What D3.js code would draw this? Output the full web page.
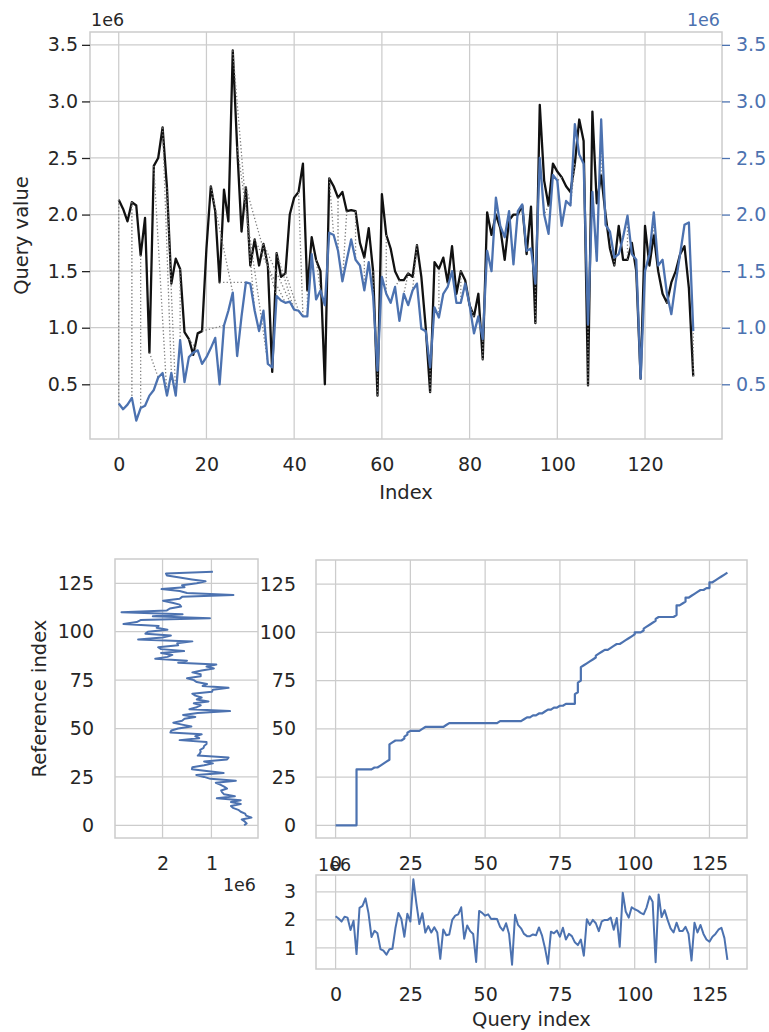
<!DOCTYPE html>
<html><head><meta charset="utf-8">
<script src="https://cdn.jsdelivr.net/npm/d3@7"></script>
<style>
body{margin:0;background:#fff}
svg{display:block}
text{font-family:"DejaVu Sans",sans-serif;fill:#262626}
</style>
</head><body>
<svg id="c" width="769" height="1032"></svg>
<script>
// values in units of 1e6
const queryValues = [2.13,2.05,1.94,2.11,2.08,1.64,1.97,0.78,2.43,2.5,
2.77,2.24,1.39,1.61,1.52,0.96,0.9,0.76,0.95,0.97,
1.7,2.25,2.03,1.4,2.22,1.94,3.45,2.6,1.85,2.24,
1.55,1.78,1.55,1.74,1.55,0.61,1.66,1.45,1.48,2.0,
2.15,2.2,2.45,1.33,1.8,1.6,1.5,0.5,2.32,2.25,
2.15,2.2,2.03,2.04,2.03,1.75,1.62,1.88,1.5,0.4,
2.18,1.82,1.7,1.5,1.42,1.42,1.48,1.45,1.73,1.45,
1.0,0.43,1.58,1.52,1.62,1.4,1.72,1.3,1.5,1.42,
1.2,1.1,1.3,0.72,2.02,1.82,2.0,1.88,1.6,1.95,
2.0,2.0,2.08,1.65,2.07,1.04,2.97,2.3,2.08,2.45,
2.38,2.33,2.25,2.2,2.45,2.84,2.65,0.49,2.91,2.1,
2.35,2.0,1.7,1.55,1.9,1.6,1.6,1.75,1.5,0.55,
1.9,1.55,1.82,1.5,1.3,1.22,1.4,1.5,1.65,1.72,
1.35,0.57];

const referenceValues = [0.33,0.28,0.32,0.38,0.18,0.29,0.31,0.4,0.45,0.56,
0.6,0.4,0.6,0.4,0.89,0.52,0.74,0.78,0.8,0.68,
0.74,0.82,0.91,0.5,1.02,1.15,1.31,0.75,1.1,1.4,
1.39,1.15,0.97,1.15,0.68,0.65,1.28,1.24,1.22,1.23,
1.16,1.15,1.1,1.1,1.65,1.25,1.33,1.2,1.84,1.82,
1.68,1.41,1.6,1.78,1.6,1.55,1.33,1.58,1.28,0.62,
1.45,1.3,1.22,1.36,1.06,1.3,1.2,1.33,1.39,0.99,
0.97,0.65,1.18,1.09,1.3,1.36,1.5,1.22,1.22,1.39,
1.2,0.95,1.1,0.9,1.68,1.5,2.15,1.9,1.8,2.03,
1.56,2.03,2.09,1.68,1.7,1.39,2.5,2.0,1.83,2.35,
2.3,1.9,2.12,2.08,2.8,2.53,2.45,1.03,2.2,1.59,
2.84,1.91,1.85,1.62,1.65,1.8,1.99,1.65,1.6,0.55,
1.5,1.65,2.02,1.55,1.6,1.3,1.12,1.4,1.65,1.91,
1.93,0.97];

// warping path shown in the path panel: [query index, reference index]
const warpPath = [[0,0],[1,0],[2,0],[3,0],[4,0],[5,0],[6,0],[7,0],
[7,1],[7,2],[7,3],[7,4],[7,5],[7,6],[7,7],[7,8],[7,9],[7,10],[7,11],[7,12],[7,13],[7,14],[7,15],[7,16],[7,17],[7,18],[7,19],[7,20],[7,21],[7,22],[7,23],[7,24],[7,25],[7,26],[7,27],[7,28],[7,29],
[8,29],[9,29],[10,29],[11,29],[12,29],[13,30],[14,30],[15,31],[16,32],[17,33],[18,34],
[18,35],[18,36],[18,37],[18,38],[18,39],[18,40],[18,41],[18,42],
[19,43],[20,44],[21,44],[22,44],[23,45],[23,46],[24,47],[24,48],[25,49],[26,49],[27,49],[28,49],[29,50],[30,51],
[31,51],[32,51],[33,51],[34,51],[35,51],[36,51],[37,52],[38,53],
[39,53],[40,53],[41,53],[42,53],[43,53],[44,53],[45,53],[46,53],[47,53],[48,53],[49,53],[50,53],[51,53],[52,53],[53,53],[54,53],
[55,54],[56,54],[57,54],[58,54],[59,54],[60,54],[61,54],[62,54],
[63,55],[64,56],[65,56],[66,57],[67,57],[68,58],[69,58],[70,59],[71,60],[72,60],[73,61],[74,61],[75,62],[76,62],[77,63],[78,63],[79,63],[80,63],
[80,64],[80,65],[80,66],[80,67],[80,68],
[81,69],[81,70],[81,71],[81,72],[81,73],[81,74],
[82,75],[82,76],[82,77],[82,78],[82,79],[82,80],[82,81],[82,82],
[83,83],[84,84],[85,85],[86,86],[87,87],[87,88],[88,89],[89,90],[90,91],[91,91],[92,92],[93,93],[94,94],[95,94],[96,95],[97,96],[98,97],[99,98],[100,99],[100,100],[101,100],[102,100],[103,101],[103,102],[104,103],[105,104],[106,105],[107,106],[107,107],[108,108],[109,108],[110,108],[111,108],[112,108],[113,108],
[114,109],[114,110],[114,111],[114,112],[114,113],[114,114],[115,114],[116,115],[117,116],[117,117],[117,118],[118,118],[119,119],[120,120],[121,121],[122,122],[123,122],[124,123],[125,123],[125,124],[125,125],[125,126],[126,126],[127,127],[128,128],[129,129],[130,130],[131,131]];

// dotted match lines drawn in the top plot: [query index, reference index]
const matchPairs = [[0,0],[3,3],[5,5],[7,9],[8,11],[10,12],[11,13],[14,14],[16,18],[19,24],
[21,26],[23,29],[26,31],[27,34],[29,36],[31,38],[33,39],[36,40],[38,41],[41,42],
[43,43],[45,46],[48,49],[50,50],[52,51],[54,54],[56,56],[58,58],[59,59],[61,61],
[64,63],[66,65],[68,67],[71,71],[73,73],[75,75],[78,78],[81,80],[83,83],[86,86],
[89,89],[92,92],[95,95],[98,97],[101,100],[104,103],[107,107],[110,110],[113,113],[116,116],
[119,119],[122,122],[125,125],[128,128],[131,131]];

const topXTicks = [0,20,40,60,80,100,120];
const topYTicks = [0.5,1.0,1.5,2.0,2.5,3.0,3.5];
const refValueTicks = [2,1];
const indexTicks = [0,25,50,75,100,125];
const queryValueTicks = [1,2,3];

const BLUE = "#4c72b0", GRID = "#cccccc", TXT = "#262626";
const TICKFS = "19px", LABFS = "19.5px", OFFS = "17.5px";
const svg = d3.select("#c");

function pad(ext){ const m = (ext[1]-ext[0])*0.05; return [ext[0]-m, ext[1]+m]; }
const idxDom = pad([0, referenceValues.length-1]);

function grid(g, xs, ys, box, xt, yt){
  g.selectAll(null).data(xt).join("line")
    .attr("x1", d=>xs(d)).attr("x2", d=>xs(d)).attr("y1", box.t).attr("y2", box.b)
    .attr("stroke", GRID).attr("stroke-width", 1.25);
  g.selectAll(null).data(yt).join("line")
    .attr("y1", d=>ys(d)).attr("y2", d=>ys(d)).attr("x1", box.l).attr("x2", box.r)
    .attr("stroke", GRID).attr("stroke-width", 1.25);
}
function frame(g, box){
  g.append("rect").attr("x", box.l).attr("y", box.t).attr("width", box.r-box.l).attr("height", box.b-box.t)
    .attr("fill","none").attr("stroke", GRID).attr("stroke-width", 1.5);
}
function styleAxis(sel, color, tickColor){
  sel.select(".domain").remove();
  sel.selectAll(".tick line").attr("stroke", tickColor||"none").attr("stroke-width", 1.3);
  sel.selectAll(".tick text").style("font-size", TICKFS).attr("fill", color||TXT).style("fill", color||TXT);
}

// ---------------- TOP PLOT ----------------
const TB = {l:90, r:722, t:32, b:439};
const xT = d3.scaleLinear().domain(idxDom).range([TB.l, TB.r]);
const yT = d3.scaleLinear().domain(pad(d3.extent(queryValues.concat(referenceValues)))).range([TB.b, TB.t]);
const gTop = svg.append("g");
grid(gTop, xT, yT, TB, topXTicks, topYTicks);

gTop.append("path").datum(queryValues)
  .attr("d", d3.line().x((d,i)=>xT(i)).y(d=>yT(d)))
  .attr("fill","none").attr("stroke","#111").attr("stroke-width",2.3).attr("stroke-linejoin","round");

gTop.selectAll(null).data(matchPairs).join("line")
  .attr("x1", p=>xT(p[0])).attr("y1", p=>yT(queryValues[p[0]]))
  .attr("x2", p=>xT(p[1])).attr("y2", p=>yT(referenceValues[p[1]]))
  .attr("stroke","#7f7f7f").attr("stroke-width",1.3).attr("stroke-dasharray","1.3,2.2");

gTop.append("path").datum(referenceValues)
  .attr("d", d3.line().x((d,i)=>xT(i)).y(d=>yT(d)))
  .attr("fill","none").attr("stroke",BLUE).attr("stroke-width",2.3).attr("stroke-linejoin","round");
frame(gTop, TB);

gTop.append("g").attr("transform",`translate(${TB.l},0)`)
  .call(d3.axisLeft(yT).tickValues(topYTicks).tickFormat(d3.format(".1f")).tickSize(8).tickPadding(4))
  .call(s=>styleAxis(s, TXT, TXT));
gTop.append("g").attr("transform",`translate(${TB.r},0)`)
  .call(d3.axisRight(yT).tickValues(topYTicks).tickFormat(d3.format(".1f")).tickSize(8).tickPadding(6))
  .call(s=>styleAxis(s, BLUE, BLUE));
gTop.append("g").attr("transform",`translate(0,${TB.b})`)
  .call(d3.axisBottom(xT).tickValues(topXTicks).tickSize(0).tickPadding(19))
  .call(s=>styleAxis(s, TXT));
gTop.append("text").attr("x", TB.l+1).attr("y", 26).style("font-size", OFFS).text("1e6");
gTop.append("text").attr("x", TB.r-2).attr("y", 26).attr("text-anchor","end").style("font-size", OFFS)
  .attr("fill", BLUE).style("fill", BLUE).text("1e6");
gTop.append("text").attr("x", (TB.l+TB.r)/2).attr("y", 499).attr("text-anchor","middle").style("font-size", LABFS).text("Index");
gTop.append("text").attr("transform", `translate(28,${(TB.t+TB.b)/2}) rotate(-90)`).attr("text-anchor","middle")
  .style("font-size", LABFS).text("Query value");

// ---------------- LEFT PANEL (reference) ----------------
const LB = {l:115, r:258, t:559, b:838};
const refDom = pad(d3.extent(referenceValues));
const xL = d3.scaleLinear().domain([refDom[1], refDom[0]]).range([LB.l, LB.r]);
const yIdx = d3.scaleLinear().domain(idxDom).range([LB.b, LB.t]);
const gL = svg.append("g");
grid(gL, xL, yIdx, LB, refValueTicks, indexTicks);
gL.append("path").datum(referenceValues)
  .attr("d", d3.line().x(d=>xL(d)).y((d,i)=>yIdx(i)))
  .attr("fill","none").attr("stroke",BLUE).attr("stroke-width",2).attr("stroke-linejoin","round");
frame(gL, LB);
gL.append("g").attr("transform",`translate(${LB.l},0)`)
  .call(d3.axisLeft(yIdx).tickValues(indexTicks).tickSize(0).tickPadding(21)).call(s=>styleAxis(s));
gL.append("g").attr("transform",`translate(0,${LB.b})`)
  .call(d3.axisBottom(xL).tickValues(refValueTicks).tickFormat(d3.format("d")).tickSize(0).tickPadding(19)).call(s=>styleAxis(s));
gL.append("text").attr("x", LB.r-2).attr("y", 891).attr("text-anchor","end").style("font-size", OFFS).text("1e6");
gL.append("text").attr("transform", `translate(46,${(LB.t+LB.b)/2}) rotate(-90)`).attr("text-anchor","middle")
  .style("font-size", LABFS).text("Reference index");

// ---------------- PATH PANEL ----------------
const PB = {l:316, r:747, t:560, b:838};
const xP = d3.scaleLinear().domain(idxDom).range([PB.l, PB.r]);
const yP = d3.scaleLinear().domain(idxDom).range([PB.b, PB.t]);
const gP = svg.append("g");
grid(gP, xP, yP, PB, indexTicks, indexTicks);
gP.append("path").datum(warpPath)
  .attr("d", d3.line().x(d=>xP(d[0])).y(d=>yP(d[1])))
  .attr("fill","none").attr("stroke",BLUE).attr("stroke-width",2.2).attr("stroke-linejoin","round");
frame(gP, PB);
gP.append("g").attr("transform",`translate(${PB.l},0)`)
  .call(d3.axisLeft(yP).tickValues(indexTicks).tickSize(0).tickPadding(20)).call(s=>styleAxis(s));
gP.append("g").attr("transform",`translate(0,${PB.b})`)
  .call(d3.axisBottom(xP).tickValues(indexTicks).tickSize(0).tickPadding(19)).call(s=>styleAxis(s));

// ---------------- BOTTOM PANEL (query) ----------------
const BB = {l:316, r:747, t:875, b:969};
const xB = d3.scaleLinear().domain(idxDom).range([BB.l, BB.r]);
const yB = d3.scaleLinear().domain(pad(d3.extent(queryValues))).range([BB.b, BB.t]);
const gB = svg.append("g");
grid(gB, xB, yB, BB, indexTicks, queryValueTicks);
gB.append("path").datum(queryValues)
  .attr("d", d3.line().x((d,i)=>xB(i)).y(d=>yB(d)))
  .attr("fill","none").attr("stroke",BLUE).attr("stroke-width",2).attr("stroke-linejoin","round");
frame(gB, BB);
gB.append("g").attr("transform",`translate(${BB.l},0)`)
  .call(d3.axisLeft(yB).tickValues(queryValueTicks).tickFormat(d3.format("d")).tickSize(0).tickPadding(20)).call(s=>styleAxis(s));
gB.append("g").attr("transform",`translate(0,${BB.b})`)
  .call(d3.axisBottom(xB).tickValues(indexTicks).tickSize(0).tickPadding(19)).call(s=>styleAxis(s));
gB.append("text").attr("x", BB.l+2).attr("y", 871).style("font-size", OFFS).text("1e6");
gB.append("text").attr("x", (BB.l+BB.r)/2).attr("y", 1026).attr("text-anchor","middle").style("font-size", LABFS).text("Query index");
</script>
</body></html>
